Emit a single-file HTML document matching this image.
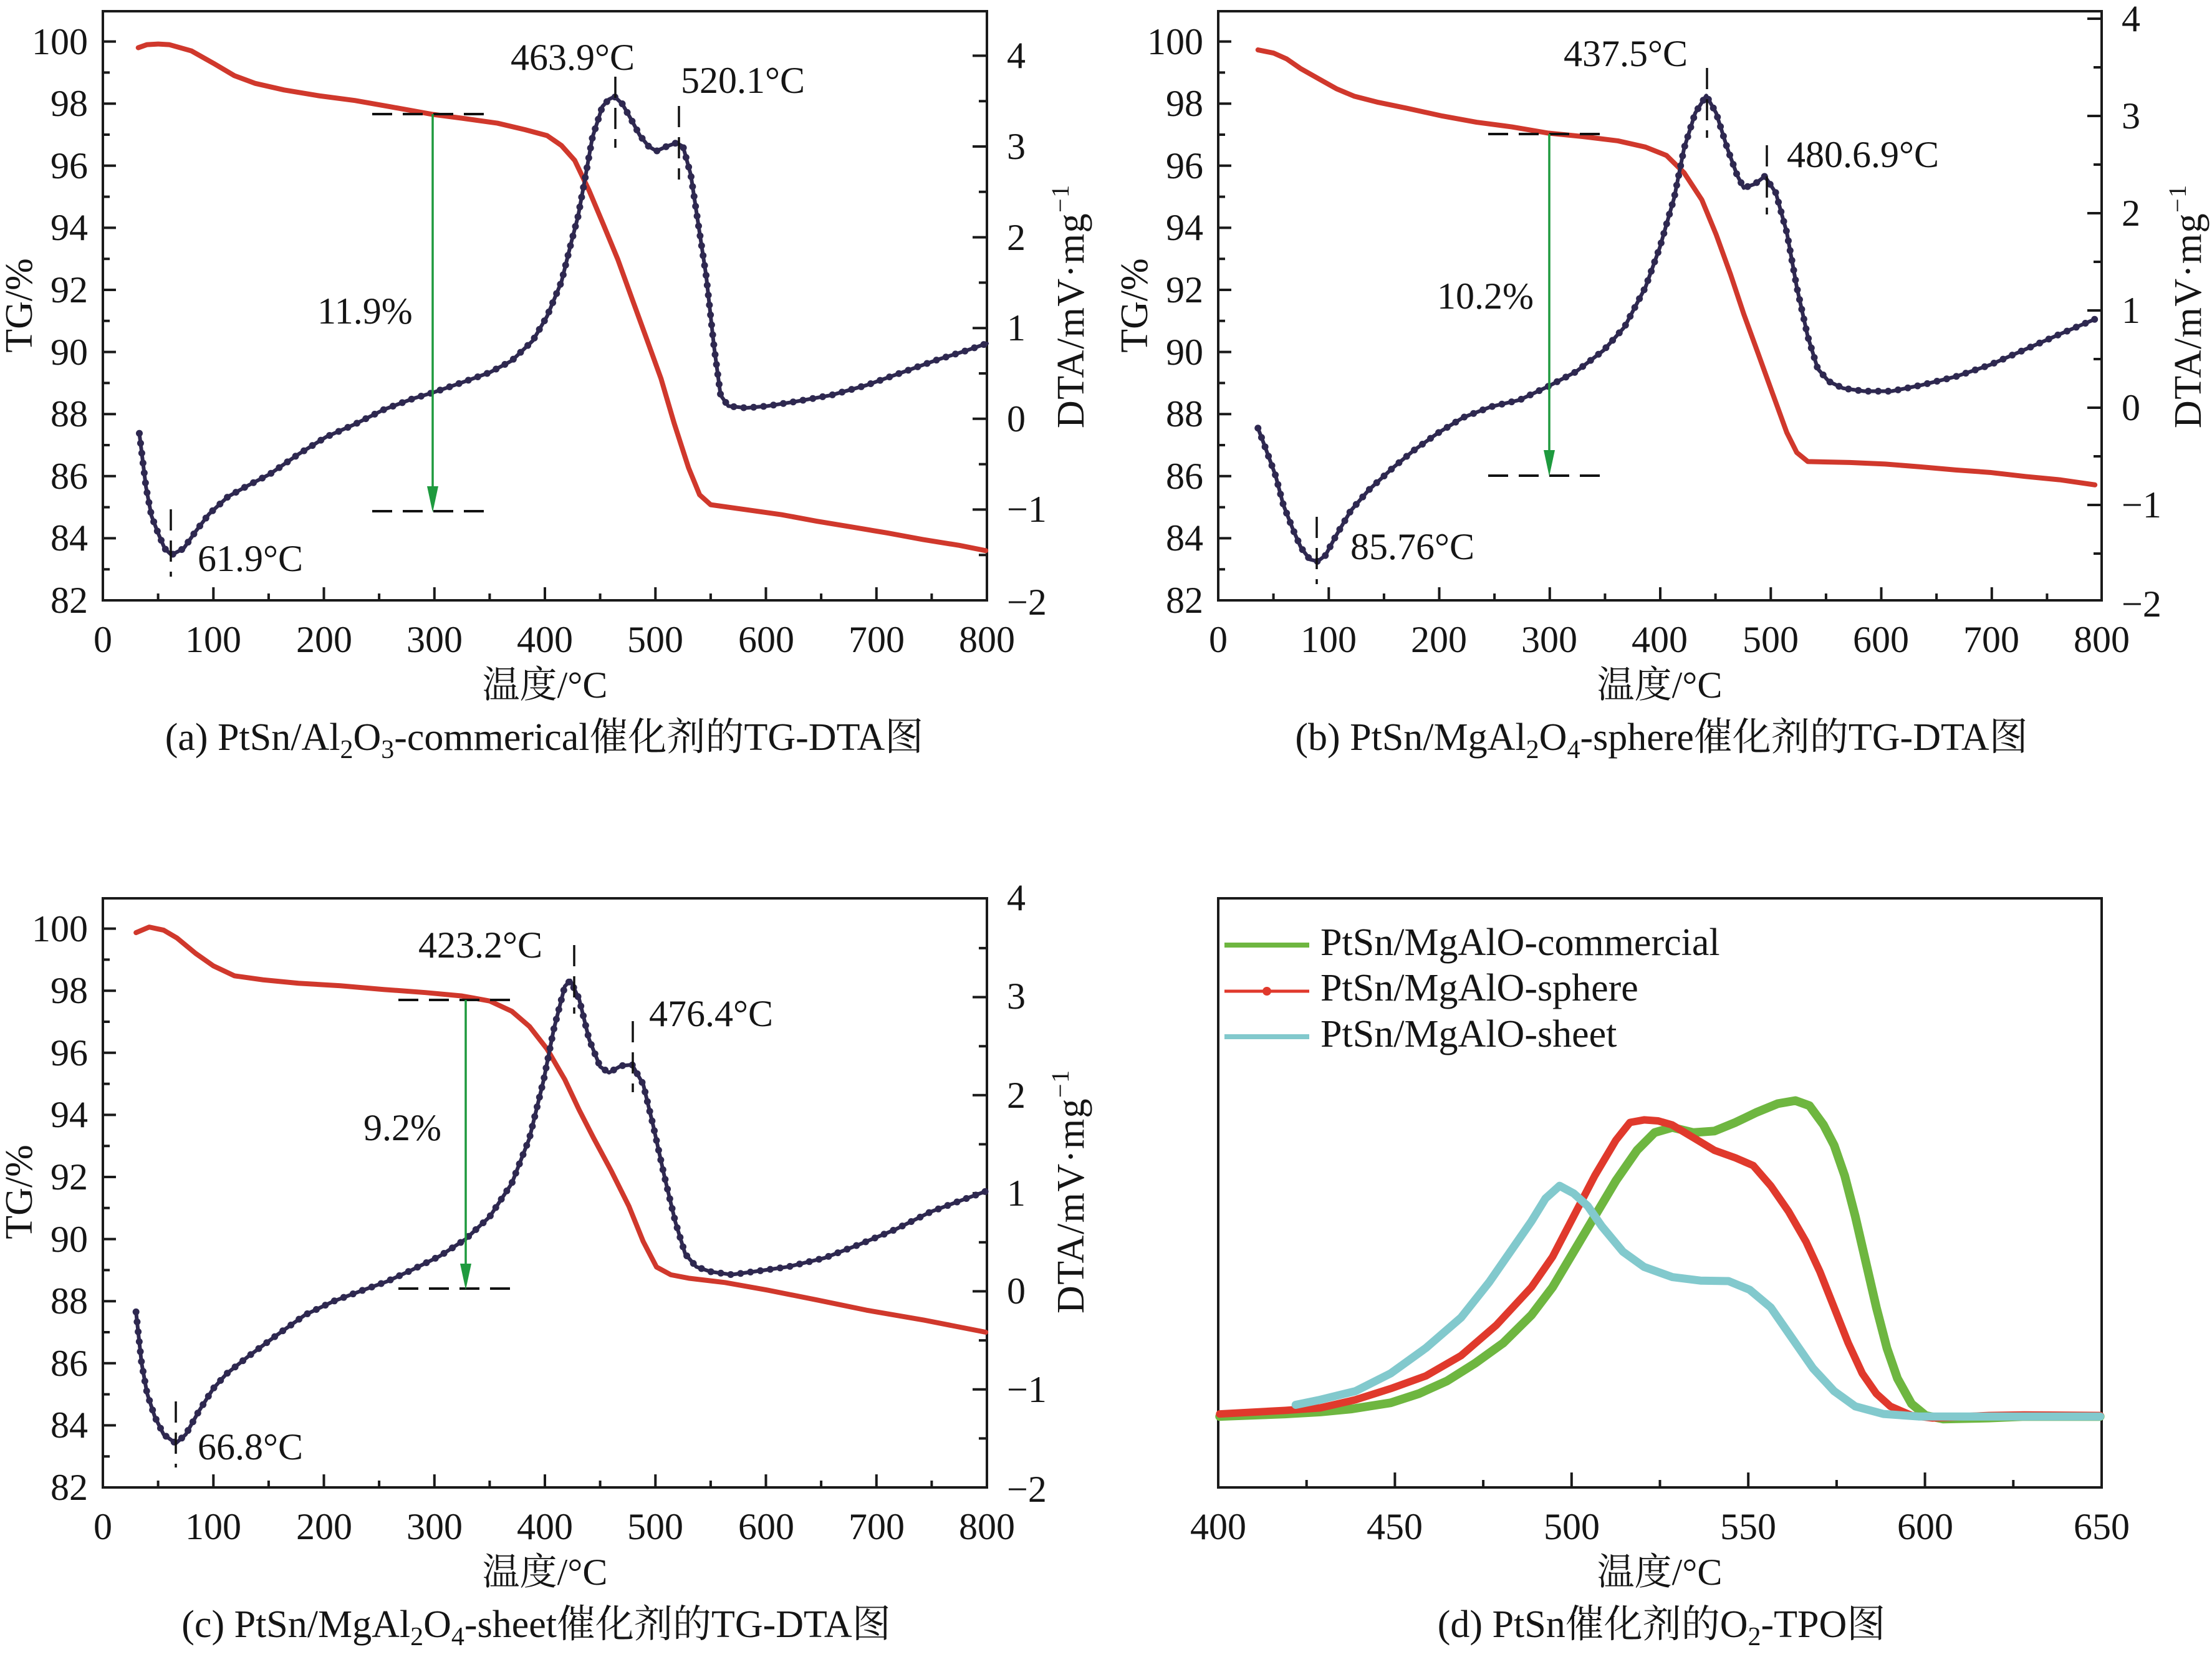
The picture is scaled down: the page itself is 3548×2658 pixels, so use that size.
<!DOCTYPE html>
<html><head><meta charset="utf-8"><style>
html,body{margin:0;padding:0;background:#fff}
svg{display:block}
.t{font-family:"Liberation Serif","Noto Serif CJK SC",serif;font-size:60px;fill:#151515}
.c{font-family:"Liberation Serif","Noto Serif CJK SC",serif;font-size:62px;fill:#151515}
.ns{vector-effect:non-scaling-stroke;fill:none;stroke-linejoin:round;stroke-linecap:round}
</style></head><body>
<svg width="3548" height="2658" viewBox="0 0 3548 2658" xmlns="http://www.w3.org/2000/svg">
<rect x="0" y="0" width="3548" height="2658" fill="#fff"/>
<defs>
<g id="lbt" stroke="#1a1a1a" stroke-width="4" fill="none">
<path d="M342.3,963V942M519.5,963V942M696.8,963V942M874,963V942M1051.3,963V942M1228.5,963V942M1405.8,963V942"/>
<path d="M253.6,963V952M430.9,963V952M608.1,963V952M785.4,963V952M962.6,963V952M1139.9,963V952M1317.1,963V952M1494.4,963V952"/>
<path d="M165,863.4H186M165,763.8H186M165,664.2H186M165,564.6H186M165,465H186M165,365.4H186M165,265.8H186M165,166.2H186M165,66.6H186"/>
<path d="M165,913.2H176M165,813.6H176M165,714H176M165,614.4H176M165,514.8H176M165,415.2H176M165,315.6H176M165,216H176M165,116.4H176"/>
</g>
</defs>

<!-- ============ PANEL A ============ -->
<rect x="165" y="18" width="1418" height="945" fill="none" stroke="#1a1a1a" stroke-width="4"/>
<use href="#lbt"/>
<g stroke="#1a1a1a" stroke-width="4" fill="none">
<path d="M1583,817.4H1560M1583,671.8H1560M1583,526.2H1560M1583,380.6H1560M1583,235H1560M1583,89.4H1560"/>
<path d="M1583,890.2H1570M1583,744.6H1570M1583,599H1570M1583,453.4H1570M1583,307.8H1570M1583,162.2H1570"/>
</g>
<g transform="translate(165,963) scale(1.7725,-49.8) translate(0,-82)">
<polyline class="ns" stroke="#d0382c" stroke-width="8" points="32,99.8 40,99.9 50,99.92 60,99.9 80,99.7 100,99.3 119,98.9 138,98.65 164,98.44 196,98.25 228,98.1 260,97.9 299,97.65 325,97.53 357,97.37 382,97.16 402,96.97 415,96.65 427,96.17 440,95.2 453,94.1 466,92.98 479,91.7 492,90.43 505,89.15 517,87.7 530,86.27 540,85.4 550,85.08 582,84.92 614,84.76 646,84.55 678,84.36 710,84.17 742,83.96 775,83.77 799,83.6"/>
</g>
<g transform="translate(165,963) scale(1.7725,-145.6) translate(0,2)">
<polyline class="ns" stroke="#2e2850" stroke-width="6" points="33,-0.16 39,-0.75 44,-1.07 50,-1.26 56,-1.43 62,-1.5 73,-1.43 84,-1.24 96,-1.05 113,-0.86 129,-0.75 151,-0.61 177,-0.39 202,-0.2 228,-0.06 254,0.1 280,0.22 299,0.29 325,0.4 350,0.51 370,0.64 389,0.86 402,1.13 415,1.51 424,1.95 430,2.23 437,2.69 443,3.1 452,3.44 458,3.52 463,3.55 470,3.47 478,3.3 486,3.12 494,3.0 501,2.95 510,3.0 519,3.04 525,3.0 532,2.69 538,2.21 546,1.57 553,0.8 559,0.26 566,0.14 582,0.12 601,0.14 627,0.19 659,0.26 691,0.37 723,0.51 755,0.65 781,0.75 800,0.83"/>
<polyline class="ns" stroke="#2e2850" stroke-width="11" stroke-dasharray="0 16" points="33,-0.16 39,-0.75 44,-1.07 50,-1.26 56,-1.43 62,-1.5 73,-1.43 84,-1.24 96,-1.05 113,-0.86 129,-0.75 151,-0.61 177,-0.39 202,-0.2 228,-0.06 254,0.1 280,0.22 299,0.29 325,0.4 350,0.51 370,0.64 389,0.86 402,1.13 415,1.51 424,1.95 430,2.23 437,2.69 443,3.1 452,3.44 458,3.52 463,3.55 470,3.47 478,3.3 486,3.12 494,3.0 501,2.95 510,3.0 519,3.04 525,3.0 532,2.69 538,2.21 546,1.57 553,0.8 559,0.26 566,0.14 582,0.12 601,0.14 627,0.19 659,0.26 691,0.37 723,0.51 755,0.65 781,0.75 800,0.83"/>
</g>
<g stroke="#111" stroke-width="4" fill="none" stroke-dasharray="32 17">
<path d="M597,183H781M597,820H781"/>
</g>
<g stroke="#111" stroke-width="3.5" fill="none" stroke-dasharray="34 16">
<path d="M987,123V237M1089,170V288M274,817V925"/>
</g>
<path d="M694,183V790" stroke="#1e9a3e" stroke-width="3.5"/>
<polygon points="694,822 685,780 703,780" fill="#1e9a3e"/>
<text class="t" x="819" y="112">463.9°C</text>
<text class="t" x="1092" y="149">520.1°C</text>
<text class="t" x="317" y="916">61.9°C</text>
<text class="t" x="509" y="519">11.9%</text>
<g class="t" text-anchor="end">
<text x="141" y="983">82</text><text x="141" y="883">84</text><text x="141" y="784">86</text><text x="141" y="684">88</text><text x="141" y="585">90</text><text x="141" y="485">92</text><text x="141" y="385">94</text><text x="141" y="286">96</text><text x="141" y="186">98</text><text x="141" y="87">100</text>
</g>
<g class="t">
<text x="1615" y="986">−2</text><text x="1615" y="837">−1</text><text x="1615" y="692">0</text><text x="1615" y="546">1</text><text x="1615" y="401">2</text><text x="1615" y="255">3</text><text x="1615" y="109">4</text>
</g>
<g class="t" text-anchor="middle">
<text x="165" y="1046">0</text><text x="342" y="1046">100</text><text x="520" y="1046">200</text><text x="697" y="1046">300</text><text x="874" y="1046">400</text><text x="1051" y="1046">500</text><text x="1229" y="1046">600</text><text x="1406" y="1046">700</text><text x="1583" y="1046">800</text>
<text x="874" y="1119">温度/°C</text>
</g>
<text class="c" text-anchor="middle" transform="translate(51,490) rotate(-90)">TG/%</text>
<text class="c" transform="translate(1738,687) rotate(-90)" letter-spacing="1.5">DTA/mV·mg<tspan font-size="40" dy="-24">−1</tspan></text>
<text class="c" x="873" y="1203" text-anchor="middle">(a) PtSn/Al<tspan font-size="42" dy="13">2</tspan><tspan dy="-13">O</tspan><tspan font-size="42" dy="13">3</tspan><tspan dy="-13">-commerical催化剂的TG-DTA图</tspan></text>

<!-- ============ PANEL B ============ -->
<rect x="1954" y="18" width="1417" height="945" fill="none" stroke="#1a1a1a" stroke-width="4"/>
<use href="#lbt" transform="translate(1789,0)"/>
<g stroke="#1a1a1a" stroke-width="4" fill="none">
<path d="M3371,810H3348M3371,654H3348M3371,498H3348M3371,342H3348M3371,186H3348M3371,30H3348"/>
<path d="M3371,888H3358M3371,732H3358M3371,576H3358M3371,420H3358M3371,264H3358M3371,108H3358"/>
</g>
<g transform="translate(1954,963) scale(1.771,-49.8) translate(0,-82)">
<polyline class="ns" stroke="#d0382c" stroke-width="8" points="36,99.73 50,99.63 62,99.44 75,99.12 91,98.8 107,98.48 123,98.24 145,98.04 171,97.85 203,97.6 234,97.4 266,97.25 299,97.05 330,96.94 362,96.8 387,96.6 406,96.33 422,95.77 438,94.9 451,93.78 464,92.5 476,91.22 489,89.95 502,88.67 515,87.4 524,86.76 534,86.47 572,86.44 604,86.39 636,86.3 668,86.2 699,86.12 731,85.99 763,85.88 794,85.72"/>
</g>
<g transform="translate(1954,966) scale(1.771,-156) translate(0,2)">
<polyline class="ns" stroke="#2e2850" stroke-width="6" points="36,-0.21 43,-0.42 52,-0.7 59,-1.0 68,-1.26 75,-1.44 83,-1.56 90,-1.58 97,-1.52 107,-1.31 120,-1.06 136,-0.85 158,-0.62 177,-0.44 199,-0.26 222,-0.1 247,0.01 273,0.08 299,0.22 324,0.37 349,0.59 368,0.83 387,1.24 400,1.65 413,2.16 422,2.67 432,3.03 442,3.21 451,3.03 461,2.67 470,2.39 476,2.26 486,2.3 495,2.38 505,2.21 515,1.8 524,1.24 534,0.73 543,0.4 553,0.27 566,0.2 585,0.17 610,0.17 636,0.23 668,0.32 699,0.44 731,0.6 763,0.76 794,0.91"/>
<polyline class="ns" stroke="#2e2850" stroke-width="11" stroke-dasharray="0 16" points="36,-0.21 43,-0.42 52,-0.7 59,-1.0 68,-1.26 75,-1.44 83,-1.56 90,-1.58 97,-1.52 107,-1.31 120,-1.06 136,-0.85 158,-0.62 177,-0.44 199,-0.26 222,-0.1 247,0.01 273,0.08 299,0.22 324,0.37 349,0.59 368,0.83 387,1.24 400,1.65 413,2.16 422,2.67 432,3.03 442,3.21 451,3.03 461,2.67 470,2.39 476,2.26 486,2.3 495,2.38 505,2.21 515,1.8 524,1.24 534,0.73 543,0.4 553,0.27 566,0.2 585,0.17 610,0.17 636,0.23 668,0.32 699,0.44 731,0.6 763,0.76 794,0.91"/>
</g>
<g stroke="#111" stroke-width="4" fill="none" stroke-dasharray="32 17">
<path d="M2387,215H2568M2387,763H2568"/>
</g>
<g stroke="#111" stroke-width="3.5" fill="none" stroke-dasharray="34 16">
<path d="M2738,109V221M2834,233V344M2112,829V937"/>
</g>
<path d="M2485,215V732" stroke="#1e9a3e" stroke-width="3.5"/>
<polygon points="2485,764 2476,722 2494,722" fill="#1e9a3e"/>
<text class="t" x="2508" y="106">437.5°C</text>
<text class="t" x="2866" y="268">480.6.9°C</text>
<text class="t" x="2166" y="897">85.76°C</text>
<text class="t" x="2305" y="495">10.2%</text>
<g class="t" text-anchor="end">
<text x="1930" y="983">82</text><text x="1930" y="883">84</text><text x="1930" y="784">86</text><text x="1930" y="684">88</text><text x="1930" y="585">90</text><text x="1930" y="485">92</text><text x="1930" y="385">94</text><text x="1930" y="286">96</text><text x="1930" y="186">98</text><text x="1930" y="87">100</text>
</g>
<g class="t">
<text x="3403" y="989">−2</text><text x="3403" y="830">−1</text><text x="3403" y="674">0</text><text x="3403" y="518">1</text><text x="3403" y="362">2</text><text x="3403" y="206">3</text><text x="3403" y="50">4</text>
</g>
<g class="t" text-anchor="middle">
<text x="1954" y="1046">0</text><text x="2131" y="1046">100</text><text x="2308" y="1046">200</text><text x="2485" y="1046">300</text><text x="2662" y="1046">400</text><text x="2840" y="1046">500</text><text x="3017" y="1046">600</text><text x="3194" y="1046">700</text><text x="3371" y="1046">800</text>
<text x="2662" y="1119">温度/°C</text>
</g>
<text class="c" text-anchor="middle" transform="translate(1840,490) rotate(-90)">TG/%</text>
<text class="c" transform="translate(3530,687) rotate(-90)" letter-spacing="1.5">DTA/mV·mg<tspan font-size="40" dy="-24">−1</tspan></text>
<text class="c" x="2665" y="1203" text-anchor="middle">(b) PtSn/MgAl<tspan font-size="42" dy="13">2</tspan><tspan dy="-13">O</tspan><tspan font-size="42" dy="13">4</tspan><tspan dy="-13">-sphere催化剂的TG-DTA图</tspan></text>

<!-- ============ PANEL C ============ -->
<rect x="165" y="1441" width="1418" height="945" fill="none" stroke="#1a1a1a" stroke-width="4"/>
<use href="#lbt" transform="translate(0,1423)"/>
<g stroke="#1a1a1a" stroke-width="4" fill="none">
<path d="M1583,2228.7H1560M1583,2071.4H1560M1583,1914.1H1560M1583,1756.8H1560M1583,1599.5H1560"/>
<path d="M1583,2307.4H1570M1583,2150.1H1570M1583,1992.8H1570M1583,1835.5H1570M1583,1678.2H1570M1583,1520.9H1570"/>
</g>
<g transform="translate(165,2386) scale(1.7725,-49.8) translate(0,-82)">
<polyline class="ns" stroke="#d0382c" stroke-width="8" points="30,99.87 42,100.05 55,99.95 67,99.7 84,99.2 100,98.8 119,98.48 145,98.35 177,98.24 215,98.16 254,98.04 292,97.94 325,97.83 350,97.67 370,97.34 386,96.85 402,96.12 418,95.14 431,94.16 444,93.26 460,92.2 476,91.06 489,89.92 501,89.1 514,88.85 530,88.74 563,88.6 601,88.36 646,88.04 691,87.71 743,87.39 799,87.0"/>
</g>
<g transform="translate(165,2386) scale(1.7725,-157.3) translate(0,2)">
<polyline class="ns" stroke="#2e2850" stroke-width="6" points="30,-0.21 35,-0.73 40,-1.04 47,-1.28 55,-1.46 66,-1.55 75,-1.46 87,-1.22 100,-0.99 112,-0.84 132,-0.66 157,-0.45 183,-0.24 209,-0.1 235,0.01 257,0.1 280,0.22 305,0.36 328,0.53 350,0.76 370,1.1 386,1.56 399,2.16 408,2.67 418,3.11 423,3.17 431,2.98 440,2.57 450,2.29 458,2.23 469,2.3 479,2.31 489,2.11 498,1.69 508,1.18 518,0.71 527,0.38 537,0.25 550,0.2 569,0.17 595,0.21 620,0.25 653,0.34 685,0.48 717,0.63 749,0.81 775,0.92 799,1.02"/>
<polyline class="ns" stroke="#2e2850" stroke-width="11" stroke-dasharray="0 16" points="30,-0.21 35,-0.73 40,-1.04 47,-1.28 55,-1.46 66,-1.55 75,-1.46 87,-1.22 100,-0.99 112,-0.84 132,-0.66 157,-0.45 183,-0.24 209,-0.1 235,0.01 257,0.1 280,0.22 305,0.36 328,0.53 350,0.76 370,1.1 386,1.56 399,2.16 408,2.67 418,3.11 423,3.17 431,2.98 440,2.57 450,2.29 458,2.23 469,2.3 479,2.31 489,2.11 498,1.69 508,1.18 518,0.71 527,0.38 537,0.25 550,0.2 569,0.17 595,0.21 620,0.25 653,0.34 685,0.48 717,0.63 749,0.81 775,0.92 799,1.02"/>
</g>
<g stroke="#111" stroke-width="4" fill="none" stroke-dasharray="32 17">
<path d="M639,1604H821M639,2067H821"/>
</g>
<g stroke="#111" stroke-width="3.5" fill="none" stroke-dasharray="34 16">
<path d="M921,1516V1626M1015,1638V1752M282,2248V2354"/>
</g>
<path d="M747,1604V2037" stroke="#1e9a3e" stroke-width="3.5"/>
<polygon points="747,2069 738,2027 756,2027" fill="#1e9a3e"/>
<text class="t" x="671" y="1536">423.2°C</text>
<text class="t" x="1041" y="1646">476.4°C</text>
<text class="t" x="317" y="2341">66.8°C</text>
<text class="t" x="583" y="1829">9.2%</text>
<g class="t" text-anchor="end">
<text x="141" y="2406">82</text><text x="141" y="2306">84</text><text x="141" y="2207">86</text><text x="141" y="2107">88</text><text x="141" y="2008">90</text><text x="141" y="1908">92</text><text x="141" y="1808">94</text><text x="141" y="1709">96</text><text x="141" y="1609">98</text><text x="141" y="1510">100</text>
</g>
<g class="t">
<text x="1615" y="2409">−2</text><text x="1615" y="2249">−1</text><text x="1615" y="2091">0</text><text x="1615" y="1934">1</text><text x="1615" y="1777">2</text><text x="1615" y="1618">3</text><text x="1615" y="1460">4</text>
</g>
<g class="t" text-anchor="middle">
<text x="165" y="2469">0</text><text x="342" y="2469">100</text><text x="520" y="2469">200</text><text x="697" y="2469">300</text><text x="874" y="2469">400</text><text x="1051" y="2469">500</text><text x="1229" y="2469">600</text><text x="1406" y="2469">700</text><text x="1583" y="2469">800</text>
<text x="874" y="2542">温度/°C</text>
</g>
<text class="c" text-anchor="middle" transform="translate(51,1912) rotate(-90)">TG/%</text>
<text class="c" transform="translate(1738,2107) rotate(-90)" letter-spacing="1.5">DTA/mV·mg<tspan font-size="40" dy="-24">−1</tspan></text>
<text class="c" x="860" y="2626" text-anchor="middle">(c) PtSn/MgAl<tspan font-size="42" dy="13">2</tspan><tspan dy="-13">O</tspan><tspan font-size="42" dy="13">4</tspan><tspan dy="-13">-sheet催化剂的TG-DTA图</tspan></text>

<!-- ============ PANEL D ============ -->
<rect x="1954" y="1441" width="1417" height="945" fill="none" stroke="#1a1a1a" stroke-width="4"/>
<g stroke="#1a1a1a" stroke-width="4" fill="none">
<path d="M2237.4,2386V2362M2520.8,2386V2362M2804.2,2386V2362M3087.6,2386V2362"/>
<path d="M2095.7,2386V2374M2379.1,2386V2374M2662.5,2386V2374M2945.9,2386V2374M3229.3,2386V2374"/>
</g>
<g transform="translate(1954,1441) scale(1.129,0.8133) translate(-155,-73)">
<polyline class="ns" stroke="#6eb640" stroke-width="14" points="157,1095 250,1090 300,1086 345,1080 400,1068 440,1050 480,1025 520,990 560,950 600,895 630,840 660,770 690,700 720,630 750,570 775,535 800,525 830,535 860,532 890,515 920,495 950,478 975,472 995,482 1015,520 1030,560 1045,620 1060,700 1075,790 1090,880 1105,960 1120,1020 1140,1070 1160,1093 1185,1100 1250,1098 1300,1095 1408,1095"/>
<polyline class="ns" stroke="#e0392c" stroke-width="12" points="157,1090 250,1083 300,1078 350,1062 400,1040 450,1015 500,975 550,915 600,840 630,780 660,700 690,620 720,550 740,515 760,510 780,512 800,520 830,545 860,570 890,585 915,600 940,640 965,690 990,750 1010,810 1030,880 1050,950 1070,1010 1090,1050 1110,1075 1140,1093 1170,1098 1250,1093 1300,1092 1408,1093"/>
<polyline class="ns" stroke="#82c9cd" stroke-width="13" points="265,1072 300,1062 350,1045 400,1010 450,960 500,900 540,830 570,770 600,710 620,665 640,640 660,655 680,680 700,720 730,770 760,800 800,820 840,827 880,828 910,845 940,880 970,940 1000,1000 1030,1045 1060,1075 1100,1090 1150,1095 1408,1095"/>
</g>
<path d="M1964,1516H2100" stroke="#6eb640" stroke-width="8"/>
<path d="M1964,1590H2100" stroke="#e0392c" stroke-width="5"/>
<circle cx="2032" cy="1590" r="7" fill="#e0392c"/>
<path d="M1964,1663H2100" stroke="#82c9cd" stroke-width="8"/>
<text class="c" x="2118" y="1532">PtSn/MgAlO-commercial</text>
<text class="c" x="2118" y="1605">PtSn/MgAlO-sphere</text>
<text class="c" x="2118" y="1679">PtSn/MgAlO-sheet</text>
<g class="t" text-anchor="middle">
<text x="1954" y="2469">400</text><text x="2237" y="2469">450</text><text x="2521" y="2469">500</text><text x="2804" y="2469">550</text><text x="3088" y="2469">600</text><text x="3371" y="2469">650</text>
<text x="2662" y="2542">温度/°C</text>
</g>
<text class="c" x="2665" y="2626" text-anchor="middle">(d) PtSn催化剂的O<tspan font-size="42" dy="13">2</tspan><tspan dy="-13">-TPO图</tspan></text>
</svg>
</body></html>
